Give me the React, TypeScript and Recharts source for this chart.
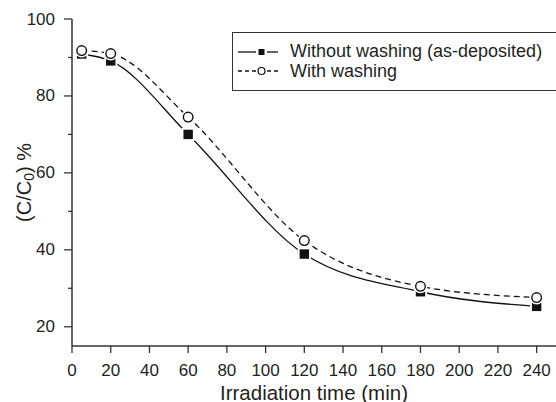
import { LineChart, Line, XAxis, YAxis, Legend } from "recharts";

const times = [5, 20, 60, 120, 180, 240];
const withoutWashing = [90.9, 89.1, 70.0, 38.9, 29.1, 25.3];
const withWashing = [91.8, 91.0, 74.5, 42.4, 30.5, 27.6];

const xTicks = [0, 20, 40, 60, 80, 100, 120, 140, 160, 180, 200, 220, 240];
const yTicks = [20, 30, 40, 50, 60, 70, 80, 90, 100];
const yLabelTicks = [20, 40, 60, 80, 100];

const seriesNames = ["Without washing (as-deposited)", "With washing"];

const data = times.map((t, i) => ({
  time: t,
  without: withoutWashing[i],
  with: withWashing[i],
}));

const ink = "#231f20";
const axisColor = "#333";
const font = "'Liberation Sans', Arial, Helvetica, sans-serif";

const YTick = (props: any) => {
  const { x, y, payload } = props;
  const axisX = x + 17;
  const major = yLabelTicks.includes(payload.value);
  return (
    <g>
      <line x1={axisX - (major ? 8 : 4)} x2={axisX} y1={y} y2={y} stroke={axisColor} strokeWidth={1.3} />
      {major && (
        <text x={x} y={y} textAnchor="end" dominantBaseline="central" fontSize={17} fill={ink} fontFamily={font}>
          {payload.value}
        </text>
      )}
    </g>
  );
};

const SquareDot = (props: any) => {
  const { cx, cy } = props;
  if (cx == null || cy == null) return null;
  return (
    <g>
      <rect x={cx - 6.5} y={cy - 6.5} width={13} height={13} fill="#fff" />
      <rect x={cx - 4.7} y={cy - 4.7} width={9.4} height={9.4} fill="#111" />
    </g>
  );
};

const CircleDot = (props: any) => {
  const { cx, cy } = props;
  if (cx == null || cy == null) return null;
  return (
    <g>
      <circle cx={cx} cy={cy} r={7} fill="#fff" />
      <circle cx={cx} cy={cy} r={4.8} fill="#fff" stroke="#111" strokeWidth={1.4} />
    </g>
  );
};

const LegendBox = () => (
  <div
    style={{
      width: 340,
      height: 59,
      boxSizing: "border-box",
      border: `1.5px solid ${axisColor}`,
      paddingTop: 9,
      fontFamily: font,
      fontSize: 18,
      color: ink,
      background: "#fff",
    }}
  >
    {seriesNames.map((name, i) => (
      <div key={name} style={{ display: "flex", alignItems: "center", height: 19.5, lineHeight: "19.5px" }}>
        <svg width={56} height={18} style={{ flex: "none" }}>
          {i === 0 ? (
            <g>
              <line x1={5} x2={23} y1={9} y2={9} stroke="#111" strokeWidth={1.3} />
              <line x1={34} x2={45} y1={9} y2={9} stroke="#111" strokeWidth={1.3} />
              <rect x={25.5} y={6} width={6} height={6} fill="#111" />
            </g>
          ) : (
            <g>
              <line x1={5} x2={23} y1={9} y2={9} stroke="#111" strokeWidth={1.3} strokeDasharray="4 3" />
              <line x1={34} x2={46} y1={9} y2={9} stroke="#111" strokeWidth={1.3} strokeDasharray="4 3" />
              <circle cx={28.5} cy={9} r={3.5} fill="#fff" stroke="#111" strokeWidth={1.2} />
            </g>
          )}
        </svg>
        <span style={{ whiteSpace: "nowrap", marginLeft: 1 }}>{name}</span>
      </div>
    ))}
  </div>
);

const XTitle = (props: any) => {
  const vb = props.viewBox;
  return (
    <text x={vb.x + vb.width / 2} y={vb.y + 46} textAnchor="middle" dominantBaseline="central" fontSize={20.5} fill={ink} fontFamily={font}>
      Irradiation time (min)
    </text>
  );
};

const YTitle = (props: any) => {
  const vb = props.viewBox;
  const cx = vb.x + 24;
  const cy = vb.y + vb.height / 2;
  return (
    <text
      x={cx}
      y={cy}
      transform={`rotate(-90 ${cx} ${cy})`}
      textAnchor="middle"
      dominantBaseline="central"
      fontSize={20}
      fill={ink}
      fontFamily={font}
    >
      (C/C
      <tspan fontSize={14} dy={5}>0</tspan>
      <tspan dy={-5}>) %</tspan>
    </text>
  );
};

export default function App() {
  return (
    <div style={{ position: "absolute", left: 0, top: 0, width: 556, height: 402, background: "#fff" }}>
      <LineChart width={556} height={402} data={data} margin={{ top: 19, right: 0, left: 0, bottom: 0 }}>
        <XAxis
          type="number"
          dataKey="time"
          domain={[0, 250]}
          ticks={xTicks}
          interval={0}
          height={56}
          tickSize={7}
          tickMargin={11}
          allowDataOverflow
          axisLine={{ stroke: axisColor, strokeWidth: 1.5 }}
          tickLine={{ stroke: axisColor, strokeWidth: 1.3 }}
          tick={{ fill: ink, fontSize: 17, fontFamily: font }}
          label={<XTitle />}
        />
        <YAxis
          type="number"
          domain={[15, 100]}
          ticks={yTicks}
          interval={0}
          width={72}
          tickSize={8}
          tickMargin={9}
          allowDataOverflow
          axisLine={{ stroke: axisColor, strokeWidth: 1.5 }}
          tickLine={false}
          tick={<YTick />}
          label={<YTitle />}
        />
        <Legend
          layout="horizontal"
          verticalAlign="middle"
          align="center"
          content={<LegendBox />}
          wrapperStyle={{ position: "absolute", left: 232, top: 32, width: 340 }}
        />
        <Line
          type="monotone"
          dataKey="without"
          name={seriesNames[0]}
          stroke="#111"
          strokeWidth={1.3}
          dot={<SquareDot />}
          activeDot={false}
          isAnimationActive={false}
        />
        <Line
          type="monotone"
          dataKey="with"
          name={seriesNames[1]}
          stroke="#111"
          strokeWidth={1.3}
          strokeDasharray="6 4"
          dot={<CircleDot />}
          activeDot={false}
          isAnimationActive={false}
        />
      </LineChart>
    </div>
  );
}
